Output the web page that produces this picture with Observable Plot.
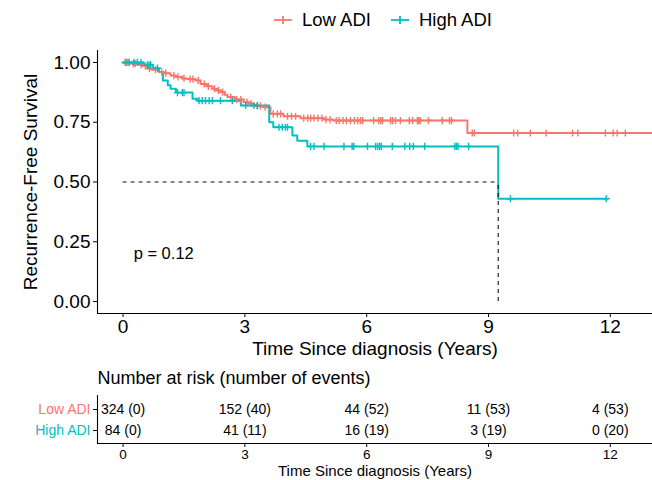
<!DOCTYPE html>
<html><head><meta charset="utf-8">
<script src="https://cdn.jsdelivr.net/npm/d3@7"></script>
<script src="https://cdn.jsdelivr.net/npm/@observablehq/plot@0.6"></script>
<style>
body{margin:0;background:#fff;font-family:"Liberation Sans",Arial,sans-serif;}
#wrap{position:relative;width:652px;height:480px;overflow:hidden;}
#legend{position:absolute;left:274px;top:6px;height:28px;display:flex;align-items:center;font-size:18.5px;color:#000;white-space:nowrap;}
.item{display:flex;align-items:center;margin-right:20px;}
.item svg{margin-right:10px;}
#main{position:absolute;left:0;top:40px;}
#risk{position:absolute;left:0;top:360px;}
</style></head><body>
<div id="wrap"><div id="legend"></div><div id="main"></div><div id="risk"></div></div>
<script>
// ---- data ----
const groups = ["Low ADI", "High ADI"];
const colors = ["#F8766D", "#00BFC4"];

const lowTime = [0, 0.2, 0.39, 0.5, 0.6, 0.7, 0.88, 1.0, 1.17, 1.3, 1.46, 1.6, 1.79, 1.91, 2.05, 2.2, 2.3, 2.4, 2.5, 2.57, 2.75, 2.97, 3.1, 3.22, 3.3, 3.44, 3.63, 3.95, 4.37, 4.94, 5.18, 8.48, 13.04];
const lowSurv = [1, 0.995, 0.99, 0.985, 0.975, 0.97, 0.96, 0.955, 0.945, 0.94, 0.933, 0.93, 0.925, 0.91, 0.9, 0.89, 0.883, 0.876, 0.865, 0.855, 0.845, 0.834, 0.828, 0.823, 0.818, 0.813, 0.785, 0.775, 0.767, 0.761, 0.757, 0.705, 0.705];

const highTime = [0, 0.51, 0.73, 0.88, 0.98, 1.10, 1.17, 1.30, 1.71, 1.83, 2.90, 3.60, 3.70, 4.17, 4.29, 4.54, 9.24, 11.92];
const highSurv = [1, 0.99, 0.976, 0.96, 0.925, 0.905, 0.89, 0.874, 0.848, 0.84, 0.82, 0.75, 0.729, 0.694, 0.673, 0.649, 0.43, 0.43];

const lowCensor = [0.05,0.1,0.15,0.25,0.3,0.45,0.55,0.65,0.8,0.95,1.05,1.25,1.35,1.5,1.65,1.72,1.85,2.0,2.1,2.25,2.35,2.45,2.65,2.8,2.9,3.05,3.15,3.3,3.38,3.5,3.7,3.8,3.88,4.05,4.15,4.25,4.45,4.55,4.62,4.7,4.8,4.9,5.0,5.1,5.25,5.32,5.42,5.5,5.6,5.7,5.78,5.85,5.9,6.17,6.3,6.35,6.39,6.59,6.64,6.71,6.83,7.05,7.13,7.25,7.28,7.32,7.52,7.86,8.04,8.09,8.6,8.65,9.62,9.72,10.03,10.42,11.07,11.2,11.88,12.07,12.17,12.37];
const highCensor = [0.07,0.15,0.27,0.35,0.44,0.6,0.64,0.68,0.85,1.34,1.46,1.5,1.87,1.95,2.03,2.12,2.2,2.4,2.69,3.02,3.22,3.31,3.84,3.92,4.0,4.05,4.62,4.7,4.95,5.44,5.64,5.68,6.02,6.22,6.27,6.32,6.36,6.63,6.94,7.06,7.15,7.43,8.17,8.21,8.25,8.51,9.54,11.9];

const medianTimes = [9.24];
const pLabels = [{x: 0.26, y: 0.2, label: "p = 0.12"}];

const riskTimes = [0, 3, 6, 9, 12];
const lowAtRisk = [324, 152, 44, 11, 4];
const lowEvents = [0, 40, 52, 53, 53];
const highAtRisk = [84, 41, 16, 3, 0];
const highEvents = [0, 11, 19, 19, 20];

const xTicks = [0, 3, 6, 9, 12];
const yTicks = [0, 0.25, 0.5, 0.75, 1];
const xTitle = "Time Since diagnosis (Years)";
const yTitle = "Recurrence-Free Survival";
const riskTitle = "Number at risk (number of events)";

// ---- derived tables ----
const xDomain = [-0.63, 13.04];
const yDomain = [-0.05, 1.05];
const curves = [
  ...lowTime.map((t, i) => ({time: t, surv: lowSurv[i], group: groups[0]})),
  ...highTime.map((t, i) => ({time: t, surv: highSurv[i], group: groups[1]}))
];
function survAt(times, survs, t) {
  let s = survs[0];
  for (let i = 0; i < times.length; i++) if (times[i] <= t) s = survs[i];
  return s;
}
const censors = [
  ...lowCensor.map(t => ({time: t, surv: survAt(lowTime, lowSurv, t), group: groups[0]})),
  ...highCensor.map(t => ({time: t, surv: survAt(highTime, highSurv, t), group: groups[1]}))
];
const riskRows = [
  ...riskTimes.map((t, i) => ({time: t, group: groups[0], label: `${lowAtRisk[i]} (${lowEvents[i]})`})),
  ...riskTimes.map((t, i) => ({time: t, group: groups[1], label: `${highAtRisk[i]} (${highEvents[i]})`}))
];

const plusSymbol = {
  draw(context, size) {
    const r = Math.sqrt(size / Math.PI);
    context.moveTo(-r, 0); context.lineTo(r, 0);
    context.moveTo(0, -r); context.lineTo(0, r);
  }
};

const font = "Liberation Sans, Arial, sans-serif";

// ---- legend ----
const legend = document.getElementById("legend");
groups.forEach((g, i) => {
  const item = document.createElement("div");
  item.className = "item";
  item.innerHTML = `<svg width="18" height="14"><line x1="0" x2="18" y1="7" y2="7" stroke="${colors[i]}" stroke-width="1.8"/><line x1="9" x2="9" y1="3" y2="11" stroke="${colors[i]}" stroke-width="1.8"/></svg><span>${g}</span>`;
  legend.appendChild(item);
});

// ---- main plot ----
const main = Plot.plot({
  width: 652, height: 320,
  marginLeft: 97, marginRight: 0, marginTop: 10, marginBottom: 47,
  style: {fontFamily: font, fontSize: "19px", color: "#000", background: "#fff", overflow: "visible"},
  x: {domain: xDomain},
  y: {domain: yDomain},
  color: {domain: groups, range: colors},
  marks: [
    Plot.axisX({ticks: xTicks, tickSize: 4, tickPadding: 2, fontSize: 19, label: null}),
    Plot.axisY({ticks: yTicks, tickSize: 4, tickPadding: 3, fontSize: 19, tickFormat: d3.format(".2f"), label: null}),
    Plot.ruleX([xDomain[0]], {stroke: "#000", strokeWidth: 1.1}),
    Plot.ruleY([yDomain[0]], {stroke: "#000", strokeWidth: 1.1}),
    Plot.line(curves, {x: "time", y: "surv", stroke: "group", z: "group", curve: "step-after", strokeWidth: 2}),
    Plot.dot(censors, {x: "time", y: "surv", stroke: "group", fill: "none", symbol: plusSymbol, r: 3.6, strokeWidth: 1.4}),
    Plot.ruleY(medianTimes, {y: () => 0.5, x1: () => 0, x2: d => d, stroke: "#111", strokeWidth: 1.1, strokeDasharray: "4,4"}),
    Plot.ruleX(medianTimes, {x: d => d, y1: () => 0, y2: () => 0.5, stroke: "#111", strokeWidth: 1.1, strokeDasharray: "4,4"}),
    Plot.text(pLabels, {x: "x", y: "y", text: "label", textAnchor: "start", fontSize: 16.5, fill: "#000"}),
    Plot.text([yTitle], {frameAnchor: "left", dx: -67, rotate: -90, textAnchor: "middle", lineAnchor: "middle", text: d => d, fontSize: 19, fill: "#000"}),
    Plot.text([xTitle], {frameAnchor: "bottom", dy: 35, textAnchor: "middle", lineAnchor: "middle", text: d => d, fontSize: 19, fill: "#000"})
  ]
});
document.getElementById("main").appendChild(main);

// ---- risk table ----
const risk = Plot.plot({
  width: 652, height: 120,
  marginLeft: 97, marginRight: 0, marginTop: 35, marginBottom: 37,
  style: {fontFamily: font, fontSize: "14px", color: "#000", background: "#fff", overflow: "visible"},
  x: {domain: xDomain},
  y: {type: "point", domain: groups, padding: 0.6},
  color: {domain: groups, range: colors},
  marks: [
    Plot.axisX({ticks: xTicks, tickSize: 4, tickPadding: 2, fontSize: 13.5, label: null}),
    Plot.axisY({tickSize: 4, tickFormat: () => "", label: null}),
    Plot.ruleX([xDomain[0]], {stroke: "#000", strokeWidth: 1.1}),
    Plot.frame({anchor: "bottom", stroke: "#000", strokeWidth: 1.1}),
    Plot.text(groups, {y: d => d, frameAnchor: "left", dx: -7, textAnchor: "end", lineAnchor: "middle", fill: d => d, text: d => d, fontSize: 14}),
    Plot.text(riskRows, {x: "time", y: "group", text: "label", fontSize: 14, fill: "#000"}),
    Plot.text([riskTitle], {frameAnchor: "top-left", dy: -17, textAnchor: "start", lineAnchor: "middle", text: d => d, fontSize: 18, fill: "#000"}),
    Plot.text([xTitle], {frameAnchor: "bottom", dy: 27.5, textAnchor: "middle", lineAnchor: "middle", text: d => d, fontSize: 15, fill: "#000"})
  ]
});
document.getElementById("risk").appendChild(risk);
</script>
</body></html>
